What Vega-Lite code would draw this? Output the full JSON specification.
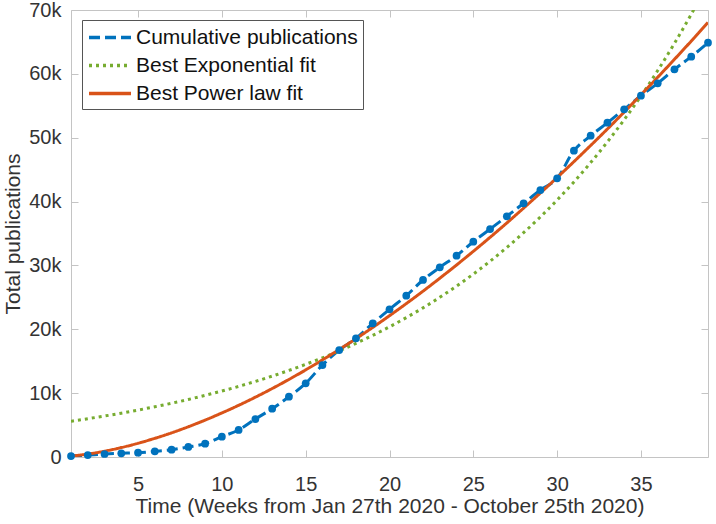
{
  "$schema": "https://vega.github.io/schema/vega-lite/v6.json",
  "width": 637,
  "height": 447,
  "autosize": "none",
  "padding": {"left": 71, "top": 10, "right": 8, "bottom": 67},
  "background": "white",
  "config": {
    "font": "Liberation Sans",
    "view": {"stroke": "#c4c4c4", "strokeWidth": 1},
    "axis": {
      "domain": false,
      "grid": false,
      "tickColor": "#c4c4c4",
      "tickSize": -7,
      "labelFont": "Liberation Sans",
      "labelFontSize": 20,
      "labelColor": "#333333",
      "titleFont": "Liberation Sans",
      "titleFontSize": 21,
      "titleFontWeight": "normal",
      "titleColor": "#333333"
    }
  },
  "data": {
    "values": [
      {"w": 1, "v": 150, "s": "Cumulative publications"},
      {"w": 2, "v": 300, "s": "Cumulative publications"},
      {"w": 3, "v": 470, "s": "Cumulative publications"},
      {"w": 4, "v": 580, "s": "Cumulative publications"},
      {"w": 5, "v": 670, "s": "Cumulative publications"},
      {"w": 6, "v": 890, "s": "Cumulative publications"},
      {"w": 7, "v": 1140, "s": "Cumulative publications"},
      {"w": 8, "v": 1570, "s": "Cumulative publications"},
      {"w": 9, "v": 2080, "s": "Cumulative publications"},
      {"w": 10, "v": 3180, "s": "Cumulative publications"},
      {"w": 11, "v": 4230, "s": "Cumulative publications"},
      {"w": 12, "v": 5950, "s": "Cumulative publications"},
      {"w": 13, "v": 7560, "s": "Cumulative publications"},
      {"w": 14, "v": 9440, "s": "Cumulative publications"},
      {"w": 15, "v": 11540, "s": "Cumulative publications"},
      {"w": 16, "v": 14400, "s": "Cumulative publications"},
      {"w": 17, "v": 16750, "s": "Cumulative publications"},
      {"w": 18, "v": 18590, "s": "Cumulative publications"},
      {"w": 19, "v": 20930, "s": "Cumulative publications"},
      {"w": 20, "v": 23130, "s": "Cumulative publications"},
      {"w": 21, "v": 25260, "s": "Cumulative publications"},
      {"w": 22, "v": 27720, "s": "Cumulative publications"},
      {"w": 23, "v": 29700, "s": "Cumulative publications"},
      {"w": 24, "v": 31520, "s": "Cumulative publications"},
      {"w": 25, "v": 33710, "s": "Cumulative publications"},
      {"w": 26, "v": 35700, "s": "Cumulative publications"},
      {"w": 27, "v": 37700, "s": "Cumulative publications"},
      {"w": 28, "v": 39730, "s": "Cumulative publications"},
      {"w": 29, "v": 41810, "s": "Cumulative publications"},
      {"w": 30, "v": 43640, "s": "Cumulative publications"},
      {"w": 31, "v": 47960, "s": "Cumulative publications"},
      {"w": 32, "v": 50310, "s": "Cumulative publications"},
      {"w": 33, "v": 52350, "s": "Cumulative publications"},
      {"w": 34, "v": 54450, "s": "Cumulative publications"},
      {"w": 35, "v": 56580, "s": "Cumulative publications"},
      {"w": 36, "v": 58520, "s": "Cumulative publications"},
      {"w": 37, "v": 60710, "s": "Cumulative publications"},
      {"w": 38, "v": 62690, "s": "Cumulative publications"},
      {"w": 39, "v": 64880, "s": "Cumulative publications"},
      {"w": 1, "v": 5600, "s": "Best Exponential fit"},
      {"w": 2, "v": 5994, "s": "Best Exponential fit"},
      {"w": 3, "v": 6416, "s": "Best Exponential fit"},
      {"w": 4, "v": 6867, "s": "Best Exponential fit"},
      {"w": 5, "v": 7351, "s": "Best Exponential fit"},
      {"w": 6, "v": 7868, "s": "Best Exponential fit"},
      {"w": 7, "v": 8422, "s": "Best Exponential fit"},
      {"w": 8, "v": 9014, "s": "Best Exponential fit"},
      {"w": 9, "v": 9649, "s": "Best Exponential fit"},
      {"w": 10, "v": 10328, "s": "Best Exponential fit"},
      {"w": 11, "v": 11054, "s": "Best Exponential fit"},
      {"w": 12, "v": 11832, "s": "Best Exponential fit"},
      {"w": 13, "v": 12665, "s": "Best Exponential fit"},
      {"w": 14, "v": 13556, "s": "Best Exponential fit"},
      {"w": 15, "v": 14510, "s": "Best Exponential fit"},
      {"w": 16, "v": 15531, "s": "Best Exponential fit"},
      {"w": 17, "v": 16624, "s": "Best Exponential fit"},
      {"w": 18, "v": 17794, "s": "Best Exponential fit"},
      {"w": 19, "v": 19046, "s": "Best Exponential fit"},
      {"w": 20, "v": 20387, "s": "Best Exponential fit"},
      {"w": 21, "v": 21821, "s": "Best Exponential fit"},
      {"w": 22, "v": 23357, "s": "Best Exponential fit"},
      {"w": 23, "v": 25000, "s": "Best Exponential fit"},
      {"w": 24, "v": 26760, "s": "Best Exponential fit"},
      {"w": 25, "v": 28643, "s": "Best Exponential fit"},
      {"w": 26, "v": 30658, "s": "Best Exponential fit"},
      {"w": 27, "v": 32816, "s": "Best Exponential fit"},
      {"w": 28, "v": 35125, "s": "Best Exponential fit"},
      {"w": 29, "v": 37597, "s": "Best Exponential fit"},
      {"w": 30, "v": 40242, "s": "Best Exponential fit"},
      {"w": 31, "v": 43074, "s": "Best Exponential fit"},
      {"w": 32, "v": 46105, "s": "Best Exponential fit"},
      {"w": 33, "v": 49350, "s": "Best Exponential fit"},
      {"w": 34, "v": 52822, "s": "Best Exponential fit"},
      {"w": 35, "v": 56540, "s": "Best Exponential fit"},
      {"w": 36, "v": 60518, "s": "Best Exponential fit"},
      {"w": 37, "v": 64777, "s": "Best Exponential fit"},
      {"w": 38, "v": 69335, "s": "Best Exponential fit"},
      {"w": 39, "v": 74215, "s": "Best Exponential fit"},
      {"w": 1, "v": 143, "s": "Best Power law fit"},
      {"w": 2, "v": 460, "s": "Best Power law fit"},
      {"w": 3, "v": 910, "s": "Best Power law fit"},
      {"w": 4, "v": 1477, "s": "Best Power law fit"},
      {"w": 5, "v": 2149, "s": "Best Power law fit"},
      {"w": 6, "v": 2920, "s": "Best Power law fit"},
      {"w": 7, "v": 3784, "s": "Best Power law fit"},
      {"w": 8, "v": 4738, "s": "Best Power law fit"},
      {"w": 9, "v": 5776, "s": "Best Power law fit"},
      {"w": 10, "v": 6896, "s": "Best Power law fit"},
      {"w": 11, "v": 8095, "s": "Best Power law fit"},
      {"w": 12, "v": 9370, "s": "Best Power law fit"},
      {"w": 13, "v": 10720, "s": "Best Power law fit"},
      {"w": 14, "v": 12146, "s": "Best Power law fit"},
      {"w": 15, "v": 13639, "s": "Best Power law fit"},
      {"w": 16, "v": 15200, "s": "Best Power law fit"},
      {"w": 17, "v": 16835, "s": "Best Power law fit"},
      {"w": 18, "v": 18527, "s": "Best Power law fit"},
      {"w": 19, "v": 20291, "s": "Best Power law fit"},
      {"w": 20, "v": 22127, "s": "Best Power law fit"},
      {"w": 21, "v": 24020, "s": "Best Power law fit"},
      {"w": 22, "v": 25970, "s": "Best Power law fit"},
      {"w": 23, "v": 27992, "s": "Best Power law fit"},
      {"w": 24, "v": 30071, "s": "Best Power law fit"},
      {"w": 25, "v": 32208, "s": "Best Power law fit"},
      {"w": 26, "v": 34402, "s": "Best Power law fit"},
      {"w": 27, "v": 36653, "s": "Best Power law fit"},
      {"w": 28, "v": 38976, "s": "Best Power law fit"},
      {"w": 29, "v": 41342, "s": "Best Power law fit"},
      {"w": 30, "v": 43766, "s": "Best Power law fit"},
      {"w": 31, "v": 46247, "s": "Best Power law fit"},
      {"w": 32, "v": 48785, "s": "Best Power law fit"},
      {"w": 33, "v": 51366, "s": "Best Power law fit"},
      {"w": 34, "v": 54019, "s": "Best Power law fit"},
      {"w": 35, "v": 56715, "s": "Best Power law fit"},
      {"w": 36, "v": 59468, "s": "Best Power law fit"},
      {"w": 37, "v": 62279, "s": "Best Power law fit"},
      {"w": 38, "v": 65132, "s": "Best Power law fit"},
      {"w": 39, "v": 68058, "s": "Best Power law fit"}
    ]
  },
  "layer": [
    {
      "mark": {"type": "line", "strokeWidth": 3, "clip": true, "interpolate": "monotone"},
      "encoding": {
        "x": {
          "field": "w", "type": "quantitative",
          "scale": {"domain": [1, 39], "nice": false, "zero": false},
          "axis": {"orient": "bottom", "values": [5, 10, 15, 20, 25, 30, 35], "labelPadding": 24, "titlePadding": 1,
                   "title": "Time (Weeks from Jan 27th 2020 - October 25th 2020)"}
        },
        "y": {
          "field": "v", "type": "quantitative",
          "scale": {"domain": [0, 70000], "nice": false},
          "axis": {"orient": "left", "values": [0, 10000, 20000, 30000, 40000, 50000, 60000, 70000],
                   "labelExpr": "datum.value == 0 ? '0' : (datum.value / 1000) + 'k'", "labelPadding": 17, "titlePadding": 5,
                   "title": "Total publications"}
        },
        "color": {
          "field": "s", "type": "nominal",
          "scale": {"domain": ["Cumulative publications", "Best Exponential fit", "Best Power law fit"], "range": ["#0072BD", "#77AC30", "#D95319"]},
          "legend": {
            "title": null, "orient": "none", "legendX": 11, "legendY": 10,
            "symbolType": "M-1,0H3", "symbolSize": 441, "symbolStrokeWidth": 3.5,
            "labelFont": "Liberation Sans", "labelFontSize": 21, "labelColor": "#111111",
            "strokeColor": "#555555", "fillColor": "white", "padding": 5, "rowPadding": 5,
            "labelOffset": 24, "labelLimit": 400
          }
        },
        "strokeDash": {
          "field": "s", "type": "nominal",
          "scale": {"domain": ["Cumulative publications", "Best Exponential fit", "Best Power law fit"], "range": [[11, 5], [3, 4], [1, 0]]},
          "legend": null
        }
      }
    },
    {
      "transform": [{"filter": "datum.s === 'Cumulative publications'"}],
      "mark": {"type": "point", "filled": true, "size": 60, "opacity": 1, "color": "#0072BD"},
      "encoding": {
        "x": {"field": "w", "type": "quantitative", "axis": {"orient": "top", "values": [5, 10, 15, 20, 25, 30, 35], "labels": false, "title": null}},
        "y": {"field": "v", "type": "quantitative", "axis": {"orient": "right", "values": [0, 10000, 20000, 30000, 40000, 50000, 60000, 70000], "labels": false, "title": null}}
      }
    }
  ],
  "resolve": {"axis": {"x": "independent", "y": "independent"}}
}
